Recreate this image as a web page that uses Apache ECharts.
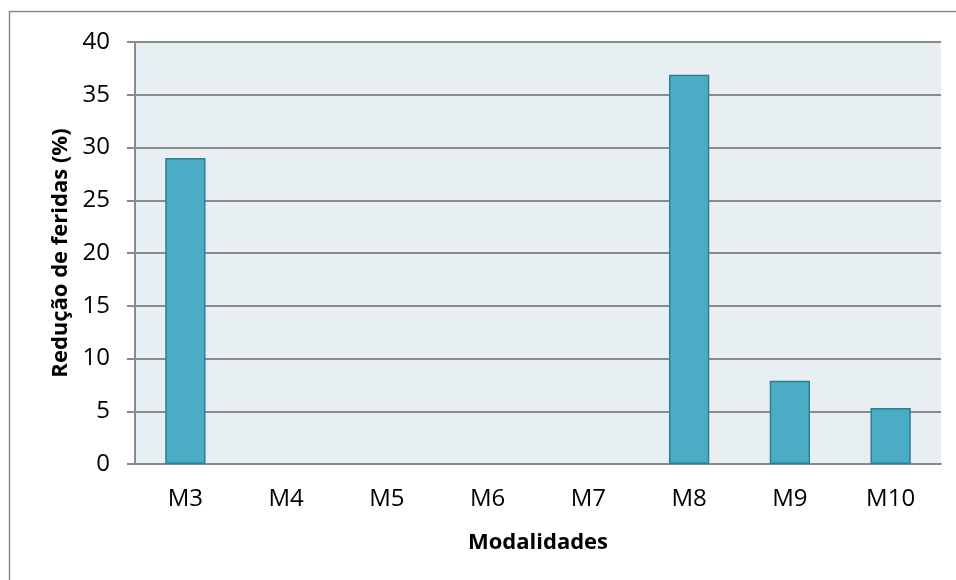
<!DOCTYPE html>
<html>
<head>
<meta charset="utf-8">
<script src="https://cdn.jsdelivr.net/npm/echarts@6/dist/echarts.min.js"></script>
<style>
  html, body { margin: 0; padding: 0; background: #ffffff; }
  #chart { width: 956px; height: 580px; }
</style>
</head>
<body>
<div id="chart"></div>
<script>
// Redução de feridas por modalidade
const categories = ['M3', 'M4', 'M5', 'M6', 'M7', 'M8', 'M9', 'M10'];
const reducao = [29, 0, 0, 0, 0, 36.9, 7.9, 5.3];
const yTicks = [0, 5, 10, 15, 20, 25, 30, 35, 40];

const FONT = '"Open Sans", "DejaVu Sans", sans-serif';
const GRID_GRAY = '#8a8a8a';

// zero-height bars get no outline, so nothing shows on the baseline
const barData = reducao.map(v => ({
  value: v,
  itemStyle: v === 0 ? { borderWidth: 0, opacity: 0 } : {}
}));

const chart = echarts.init(document.getElementById('chart'), null, { renderer: 'canvas' });

chart.setOption({
  animation: false,
  backgroundColor: '#ffffff',
  graphic: [{
    type: 'rect',
    shape: { x: 9.5, y: 11.5, width: 1000, height: 640 },
    style: { fill: 'none', stroke: GRID_GRAY, lineWidth: 1.5 },
    z: -10
  }],
  grid: {
    left: 135, right: 15, top: 42, bottom: 116,
    show: true,
    backgroundColor: '#e8eff3',
    borderWidth: 0
  },
  xAxis: {
    type: 'category',
    data: categories,
    boundaryGap: true,
    name: 'Modalidades',
    nameLocation: 'middle',
    nameGap: 68,
    nameTextStyle: { fontFamily: FONT, fontWeight: 'bold', fontSize: 22, color: '#000000' },
    axisLine: { show: true, lineStyle: { color: GRID_GRAY, width: 2 } },
    axisTick: { show: false },
    axisLabel: { margin: 23, fontFamily: FONT, fontSize: 24, color: '#000000' }
  },
  yAxis: {
    type: 'value',
    min: yTicks[0],
    max: yTicks[yTicks.length - 1],
    interval: 5,
    name: 'Redução de feridas (%)',
    nameLocation: 'middle',
    nameGap: 63,
    nameRotate: 90,
    nameTextStyle: { fontFamily: FONT, fontWeight: 'bold', fontSize: 22, color: '#000000' },
    axisLine: { show: true, lineStyle: { color: GRID_GRAY, width: 2 } },
    axisTick: { show: true, inside: false, length: 8, lineStyle: { color: GRID_GRAY, width: 2 } },
    axisLabel: { margin: 25, fontFamily: FONT, fontSize: 24, color: '#000000' },
    splitLine: { show: true, lineStyle: { color: GRID_GRAY, width: 2 } }
  },
  series: [{
    type: 'bar',
    data: barData,
    barWidth: '40%',
    itemStyle: { color: '#4bacc6', borderColor: '#2f7f94', borderWidth: 1.5 },
    z: 3
  }]
});
</script>
</body>
</html>
